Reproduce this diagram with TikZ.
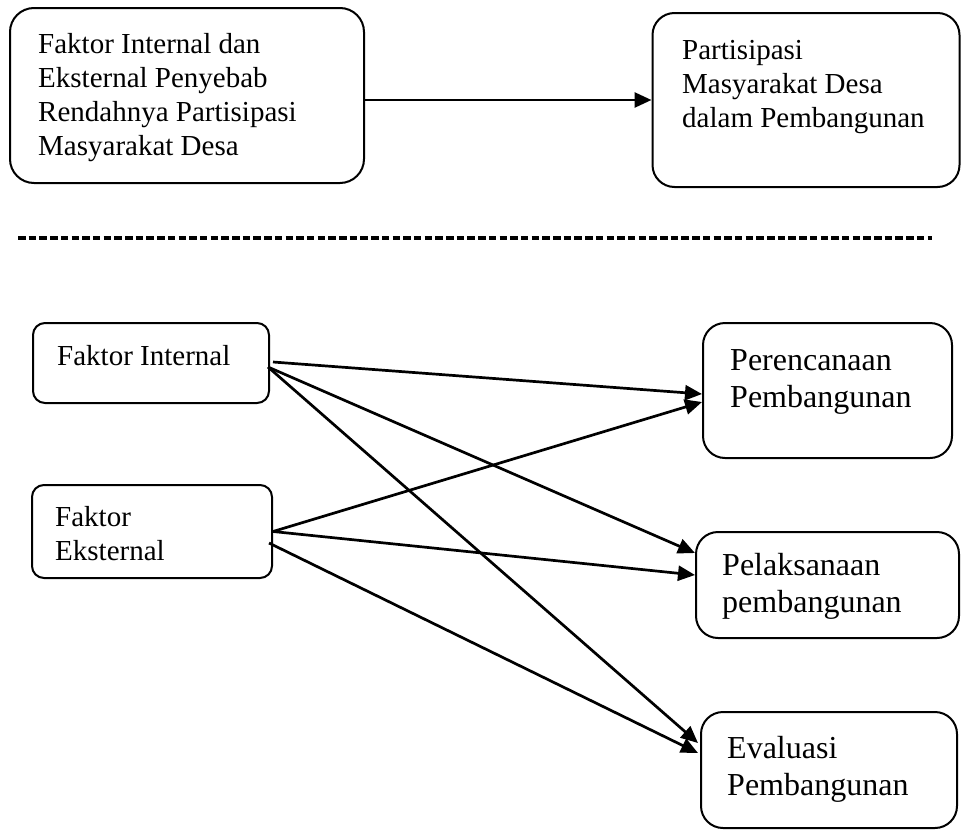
\documentclass[tikz,border=0pt]{standalone}
\usepackage{fontspec}
\setmainfont{Liberation Serif}
\usetikzlibrary{arrows.meta}
\begin{document}
\begin{tikzpicture}[x=1pt,y=1pt,
  box/.style={draw=black, line width=2pt, rounded corners=#1, minimum width=0pt, minimum height=0pt, inner sep=0pt},
  box/.default=22pt,
  txtA/.style={anchor=base west, inner sep=0pt, align=left, font=\fontsize{29}{34}\selectfont},
  txtB/.style={anchor=base west, inner sep=0pt, align=left, font=\fontsize{32}{37}\selectfont},
  arr/.style={line width=2.7pt, -{Triangle[length=17pt,width=15pt]}}]
\useasboundingbox (0,0) rectangle (961,-830);

% top boxes
\node[box=24pt, minimum width=354pt, minimum height=175pt] (b1) at (187,-95.5) {};
\node[txtA] (t1) at (38,-155) {Faktor Internal dan\\Eksternal Penyebab\\Rendahnya Partisipasi\\Masyarakat Desa};
\node[box=22pt, minimum width=307pt, minimum height=174pt] (b2) at (806,-100) {};
\node[txtA] (t2) at (682,-127) {Partisipasi\\Masyarakat Desa\\dalam Pembangunan};
\draw[arr] ([yshift=-4.5pt]b1.east) -- (b2.west);

% separator
\draw[line width=4pt, dash pattern=on 7.5pt off 3.2pt] (18,-238) -- (932,-238);

% left boxes
\node[box=12pt, minimum width=236pt, minimum height=80pt] (fi) at (151,-363) {};
\node[txtA] (tfi) at (57,-365) {Faktor Internal};
\node[box=12pt, minimum width=240pt, minimum height=93pt] (fe) at (152,-531.5) {};
\node[txtA] (tfe) at (55,-560) {Faktor\\Eksternal};

% right boxes
\node[box=22pt, minimum width=249pt, minimum height=135pt] (pr) at (827.5,-390.5) {};
\node[txtB] (tpr) at (730,-407) {Perencanaan\\Pembangunan};
\node[box=22pt, minimum width=263pt, minimum height=106pt] (pl) at (827.5,-585) {};
\node[txtB] (tpl) at (722,-612) {Pelaksanaan\\pembangunan};
\node[box=22pt, minimum width=256pt, minimum height=116pt] (ev) at (829,-770) {};
\node[txtB] (tev) at (727,-795) {Evaluasi\\Pembangunan};

% connectors
\draw[arr] ([xshift=3pt,yshift=1pt]fi.east) -- ([yshift=-3.5pt]pr.west);
\draw[arr] ([xshift=-2pt,yshift=-4pt]fi.east) -- ([yshift=32pt]pl.west);
\draw[arr] ([xshift=-2pt,yshift=-4pt]fi.east) -- ([xshift=-2pt,yshift=27pt]ev.west);
\draw[arr] (fe.east) -- ([yshift=-11.5pt]pr.west);
\draw[arr] (fe.east) -- ([yshift=10pt]pl.west);
\draw[arr] ([xshift=-4pt,yshift=-11.5pt]fe.east) -- ([xshift=-2pt,yshift=17pt]ev.west);
\end{tikzpicture}
\end{document}
